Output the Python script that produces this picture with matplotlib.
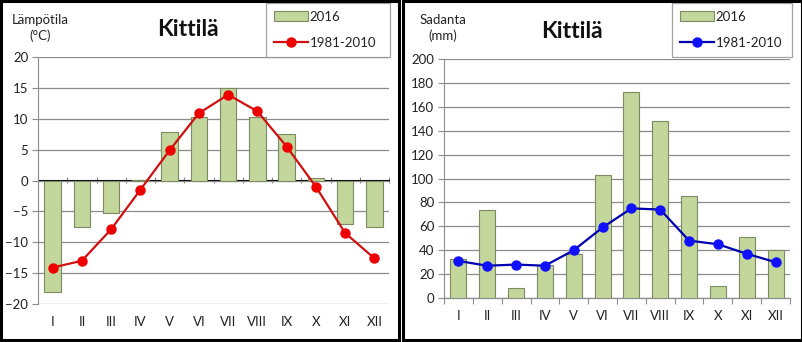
import numpy as np
import matplotlib
matplotlib.use("Agg")
import matplotlib.pyplot as plt
from matplotlib.patches import Rectangle

plt.rcParams['font.family'] = ['Lato', 'DejaVu Sans']

months = ["I", "II", "III", "IV", "V", "VI", "VII", "VIII", "IX", "X", "XI", "XII"]
temp_2016 = [-18.1, -7.6, -5.2, 0.1, 7.9, 10.3, 14.9, 10.3, 7.6, 0.4, -7.1, -7.6]
temp_norm = [-14.1, -13.0, -7.9, -1.5, 4.9, 10.9, 13.9, 11.2, 5.5, -1.0, -8.5, -12.6]
rain_2016 = [33, 74, 8, 28, 37, 103, 172, 148, 85, 10, 51, 40]
rain_norm = [31, 27, 28, 27, 40, 59, 75, 74, 48, 45, 37, 30]

W, H = 803, 342
BAR = "#c3d69b"
BAR_EDGE = "#7b8b63"
GRID = "#8c8c8c"


def fx(px):
    return px / W


def fy(py):
    return 1 - py / H


def panel(fig, box, bars, line, color, mcolor, ylim, yticks, ylabel, title_xy, leg_box):
    x0, y0, x1, y1 = box
    ax = fig.add_axes([fx(x0), fy(y1), (x1 - x0) / W, (y1 - y0) / H])
    x = np.arange(len(months))
    b = ax.bar(x, bars, width=0.56, color=BAR, edgecolor=BAR_EDGE, linewidth=0.8,
               label="2016", zorder=2)
    l, = ax.plot(x, line, color=color, lw=1.6, marker="o", ms=6.5, mfc=mcolor, mec=mcolor,
                 label="1981-2010", zorder=3)
    ax.set_xlim(-0.5, len(months) - 0.5)
    ax.set_ylim(*ylim)
    ax.set_yticks(yticks)
    ax.yaxis.grid(True, color=GRID, lw=0.9, zorder=0)
    ax.set_axisbelow(True)
    for s in ["top", "right", "bottom"]:
        ax.spines[s].set_visible(False)
    ax.spines["left"].set_color(GRID)
    ax.tick_params(axis="y", length=4, color=GRID, labelsize=9.5, pad=3)
    ax.set_xticks(x)
    ax.set_xticklabels(months)
    ax.tick_params(axis="x", length=0, labelsize=9.5, pad=9, labelcolor="#222222")
    ax.tick_params(axis="y", labelcolor="#222222")

    # category axis at zero with tick marks between categories
    zero = (0 - ylim[0]) / (ylim[1] - ylim[0])
    sec = ax.secondary_xaxis(zero)
    sec.set_xticks(np.arange(len(months) + 1) - 0.5)
    sec.set_xticklabels([])
    sec.tick_params(length=4, color=GRID, direction="inout" if zero > 0 else "out")
    sec.spines["bottom"].set_color(GRID)
    sec.spines["bottom"].set_linewidth(0.9)

    lx0, ly0, lx1, ly1 = leg_box
    leg = ax.legend([b, l], ["2016", "1981-2010"], loc="upper left",
                    bbox_to_anchor=(fx(lx0), fy(ly1), (lx1 - lx0) / W, (ly1 - ly0) / H),
                    bbox_transform=fig.transFigure, mode="expand", fontsize=9.5,
                    frameon=True, fancybox=False, edgecolor=GRID, handlelength=2.6,
                    handleheight=0.8, labelspacing=1.05, borderpad=0.6, handletextpad=0.1,
                    borderaxespad=0)
    leg.get_frame().set_linewidth(0.9)
    for t in leg.get_texts():
        t.set_color("#222222")

    fig.text(fx(title_xy[0]), fy(title_xy[1]), "Kittilä", fontsize=16.5, fontweight="bold",
             ha="center", va="center", color="#111111")
    fig.text(fx(ylabel[1]), fy(ylabel[2]), ylabel[0], fontsize=9.5, ha="center",
             va="center", linespacing=1.3, color="#222222")
    return ax


fig = plt.figure(figsize=(W / 100, H / 100), dpi=100)

panel(fig, (38, 57, 389, 304), temp_2016, temp_norm, "#d01010", "#ee0000",
      (-20, 20), np.arange(-20, 21, 5), ("Lämpötila\n(°C)", 40, 28), (188, 30),
      (266, 3, 390, 57))
panel(fig, (444, 59, 790, 298), rain_2016, rain_norm, "#0000b0", "#1010ff",
      (0, 200), np.arange(0, 201, 20), ("Sadanta\n(mm)", 443, 28), (572, 32),
      (672, 3, 792, 56))

fig.add_artist(Rectangle((fx(1), fy(340)), 398 / W, 339 / H, transform=fig.transFigure,
                         fill=False, ec="black", lw=2.2))
fig.add_artist(Rectangle((fx(403), fy(340)), 399 / W, 339 / H, transform=fig.transFigure,
                         fill=False, ec="black", lw=2.2))

fig.savefig("out.png", dpi=100, facecolor="white")
